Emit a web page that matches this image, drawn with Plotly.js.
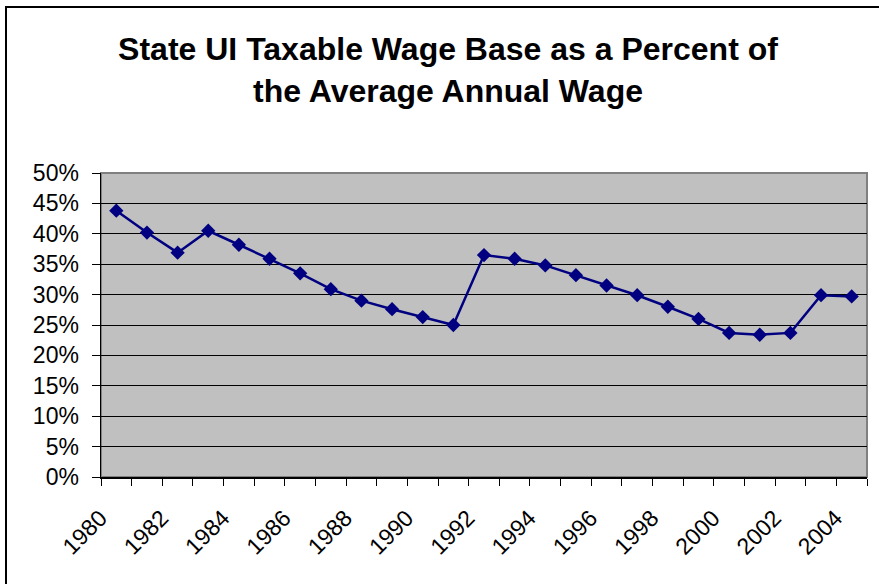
<!DOCTYPE html>
<html>
<head>
<meta charset="utf-8">
<script src="https://cdn.plot.ly/plotly-3.0.1.min.js"></script>
<style>
  html, body { margin: 0; padding: 0; background: #fff; }
  #wrap { position: relative; width: 879px; height: 584px; overflow: hidden; }
  #chart { width: 879px; height: 584px; }
  #frame { position: absolute; left: 5px; top: 6px; width: 1000px; height: 1000px;
           border-left: 2px solid #000; border-top: 2px solid #000; pointer-events: none; }
</style>
</head>
<body>
<div id="wrap">
  <div id="chart"></div>
  <div id="frame"></div>
</div>
<script>
// Data
const years = [1980, 1981, 1982, 1983, 1984, 1985, 1986, 1987, 1988, 1989, 1990, 1991, 1992,
               1993, 1994, 1995, 1996, 1997, 1998, 1999, 2000, 2001, 2002, 2003, 2004];
const wageBasePct = [0.438, 0.402, 0.369, 0.405, 0.382, 0.359, 0.335, 0.309, 0.290, 0.276, 0.263, 0.250, 0.365,
                     0.359, 0.348, 0.332, 0.315, 0.299, 0.280, 0.260, 0.237, 0.234, 0.237, 0.299, 0.297];
const labelYears = years.filter(y => y % 2 === 0);
const labelText = labelYears.map(String);

const boundaries = years.map(y => y - 0.5).concat([years[years.length - 1] + 0.5]);

const trace = {
  x: years,
  y: wageBasePct,
  type: 'scatter',
  mode: 'lines+markers',
  line: { color: '#000080', width: 2.5 },
  marker: { symbol: 'diamond', size: 11, color: '#000080' },
  hoverinfo: 'skip'
};

const layout = {
  width: 879,
  height: 584,
  margin: { l: 101, r: 12, t: 173, b: 107, pad: 0 },
  paper_bgcolor: '#ffffff',
  plot_bgcolor: '#C0C0C0',
  font: { family: 'Liberation Sans, Arial, sans-serif', color: '#000', size: 23 },
  showlegend: false,
  title: {
    text: '<b>State UI Taxable Wage Base as a Percent of<br>the Average Annual Wage</b>',
    font: { family: 'Liberation Sans, Arial, sans-serif', size: 32, color: '#000' },
    x: 448 / 879, xref: 'container', xanchor: 'center',
    y: 1 - 60 / 584, yref: 'container', yanchor: 'top'
  },
  xaxis: {
    type: 'linear',
    range: [boundaries[0], boundaries[boundaries.length - 1]],
    tickmode: 'array',
    tickvals: labelYears,
    ticktext: labelText,
    tickangle: -45,
    ticks: 'outside',
    ticklen: 7,
    tickcolor: 'rgba(0,0,0,0)',
    ticklabelstandoff: 10,
    ticklabelshift: -16,
    showgrid: false,
    zeroline: false,
    showline: true,
    linecolor: '#000',
    linewidth: 1.5,
    tickfont: { size: 23 },
    minor: {
      tickmode: 'array',
      tickvals: boundaries,
      ticks: 'outside',
      ticklen: 7,
      tickcolor: '#000',
      tickwidth: 1,
      showgrid: false
    },
    fixedrange: true
  },
  yaxis: {
    range: [0, 0.5],
    tickmode: 'linear',
    tick0: 0,
    dtick: 0.05,
    tickformat: '.0%',
    ticks: 'outside',
    ticklen: 8,
    tickcolor: '#000',
    tickwidth: 1,
    ticklabelstandoff: 8,
    showgrid: true,
    gridcolor: '#000',
    gridwidth: 1,
    zeroline: false,
    showline: true,
    linecolor: '#000',
    linewidth: 1.5,
    tickfont: { size: 23 },
    fixedrange: true
  },
  shapes: [{
    type: 'rect', xref: 'paper', yref: 'paper', x0: 0, x1: 1, y0: 0, y1: 1,
    line: { color: '#808080', width: 2 }, layer: 'below'
  }]
};

Plotly.newPlot('chart', [trace], layout, { displayModeBar: false, staticPlot: true });
</script>
</body>
</html>
